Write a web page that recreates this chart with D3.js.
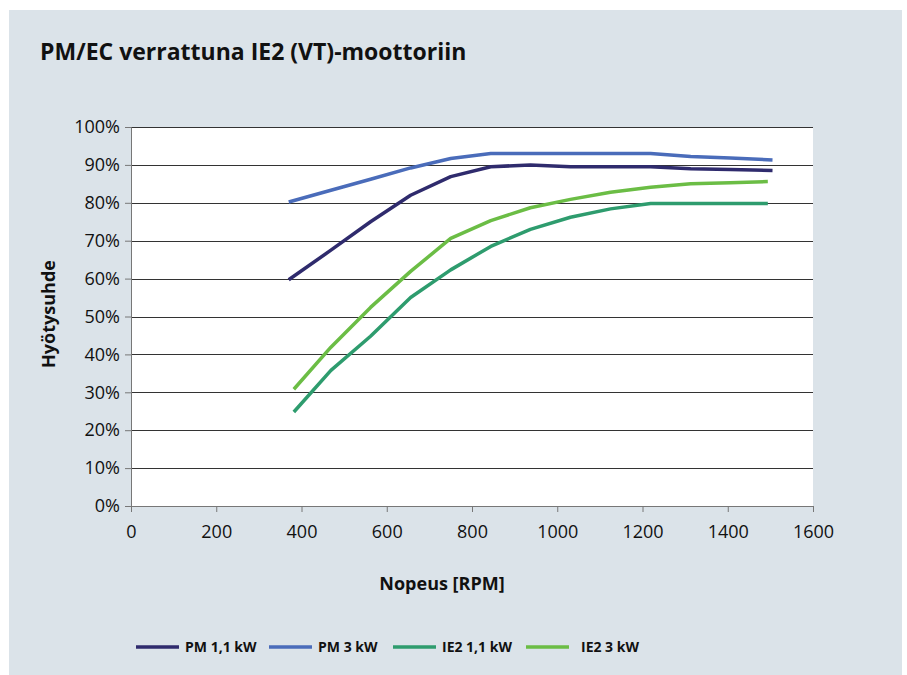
<!DOCTYPE html>
<html>
<head>
<meta charset="utf-8">
<title>PM/EC verrattuna IE2 (VT)-moottoriin</title>
<style>
body { margin: 0; background: #fff; font-family: 'Open Sans', sans-serif; }
</style>
</head>
<body>
<svg width="907" height="675"></svg>
<script src="https://cdn.jsdelivr.net/npm/d3@7/dist/d3.min.js"></script>
<script>

// ---------------------------------------------------------------
// DATA
// ---------------------------------------------------------------
var rpmPM  = [370, 469, 562, 656, 750, 844, 937, 1031, 1125, 1219, 1313, 1406, 1505];
var rpmIE2 = [382, 469, 562, 656, 750, 844, 937, 1031, 1125, 1219, 1313, 1406, 1494];

var pm11  = [59.7, 67.5, 75.0, 82.0, 86.9, 89.5, 90.0, 89.5, 89.5, 89.5, 89.0, 88.8, 88.5];
var pm3   = [80.2, 83.3, 86.2, 89.2, 91.7, 93.0, 93.0, 93.0, 93.0, 93.0, 92.2, 91.8, 91.3];
var ie211 = [24.8, 35.8, 44.8, 55.0, 62.3, 68.5, 73.0, 76.2, 78.4, 79.8, 79.8, 79.8, 79.8];
var ie23  = [30.8, 41.9, 52.4, 61.9, 70.6, 75.3, 78.7, 80.9, 82.8, 84.1, 85.0, 85.3, 85.6];

var seriesNames  = ["PM 1,1 kW", "PM 3 kW", "IE2 1,1 kW", "IE2 3 kW"];
var seriesColors = ["#2f2b6d", "#4a6cba", "#2e9c6e", "#6bbd45"];

var xTicks = [0, 200, 400, 600, 800, 1000, 1200, 1400, 1600];
var yTicks = [0, 10, 20, 30, 40, 50, 60, 70, 80, 90, 100];

var series = [
  { name: seriesNames[0], color: seriesColors[0], x: rpmPM,  y: pm11 },
  { name: seriesNames[1], color: seriesColors[1], x: rpmPM,  y: pm3 },
  { name: seriesNames[2], color: seriesColors[2], x: rpmIE2, y: ie211 },
  { name: seriesNames[3], color: seriesColors[3], x: rpmIE2, y: ie23 }
];

// ---------------------------------------------------------------
// SETUP
// ---------------------------------------------------------------
var svg = d3.select("svg");

svg.append("rect")
    .attr("x", 9).attr("y", 10)
    .attr("width", 893).attr("height", 665)
    .attr("fill", "#dbe3e9");

svg.append("text")
    .attr("x", 40).attr("y", 60)
    .attr("font-size", 23)
    .attr("font-weight", "bold")
    .attr("fill", "#111")
    .text("PM/EC verrattuna IE2 (VT)-moottoriin");

var plot = { left: 131, right: 813, top: 127, bottom: 506 };

var x = d3.scaleLinear().domain([0, 1600]).range([plot.left, plot.right]);
var y = d3.scaleLinear().domain([0, 100]).range([plot.bottom, plot.top]);

svg.append("rect")
    .attr("x", plot.left).attr("y", plot.top)
    .attr("width", plot.right - plot.left)
    .attr("height", plot.bottom - plot.top)
    .attr("fill", "#fff");

// gridlines
svg.append("g")
  .selectAll("line")
    .data(yTicks.filter(function(d) { return d > 0; }))
  .enter().append("line")
    .attr("x1", plot.left).attr("x2", plot.right)
    .attr("y1", function(d) { return Math.round(y(d)) + 0.5; })
    .attr("y2", function(d) { return Math.round(y(d)) + 0.5; })
    .attr("stroke", "#333")
    .attr("stroke-width", 1);

// axes
var yAxis = svg.append("g")
    .attr("transform", "translate(" + plot.left + ",0)")
    .call(d3.axisLeft(y).tickValues(yTicks).tickSize(6).tickPadding(5)
      .tickFormat(function(d) { return d + "%"; }));

var xAxis = svg.append("g")
    .attr("transform", "translate(0," + plot.bottom + ")")
    .call(d3.axisBottom(x).tickValues(xTicks).tickSize(6).tickPadding(13)
      .tickFormat(d3.format("d")));

[yAxis, xAxis].forEach(function(ax) {
  ax.select(".domain").attr("stroke", "#777");
  ax.selectAll(".tick line").attr("stroke", "#777");
  ax.selectAll("text")
      .attr("font-family", "'Open Sans', sans-serif")
      .attr("font-size", 18)
      .attr("fill", "#111");
});

svg.append("text")
    .attr("x", 442).attr("y", 590)
    .attr("text-anchor", "middle")
    .attr("font-size", 18)
    .attr("font-weight", "bold")
    .attr("fill", "#111")
    .text("Nopeus [RPM]");

svg.append("text")
    .attr("transform", "translate(55,314) rotate(-90)")
    .attr("text-anchor", "middle")
    .attr("font-size", 18)
    .attr("font-weight", "bold")
    .attr("fill", "#111")
    .text("Hyötysuhde");

// lines
var line = d3.line()
    .x(function(d) { return x(d[0]); })
    .y(function(d) { return y(d[1]); });

svg.append("g")
  .selectAll("path")
    .data(series)
  .enter().append("path")
    .attr("d", function(s) { return line(d3.zip(s.x, s.y)); })
    .attr("fill", "none")
    .attr("stroke", function(s) { return s.color; })
    .attr("stroke-width", 3.5)
    .attr("stroke-linejoin", "round");

// legend
var legendX = [136, 269, 393, 526];
var legend = svg.append("g")
  .selectAll("g")
    .data(series)
  .enter().append("g")
    .attr("transform", function(d, i) { return "translate(" + legendX[i] + ",647)"; });

legend.append("line")
    .attr("x1", 0).attr("x2", 43)
    .attr("stroke", function(d) { return d.color; })
    .attr("stroke-width", 3.5);

legend.append("text")
    .attr("x", function(d, i) { return i === 3 ? 55 : 49; })
    .attr("dy", "0.35em")
    .attr("font-size", 14)
    .attr("font-weight", "bold")
    .attr("fill", "#111")
    .text(function(d) { return d.name; });

</script>
</body>
</html>
